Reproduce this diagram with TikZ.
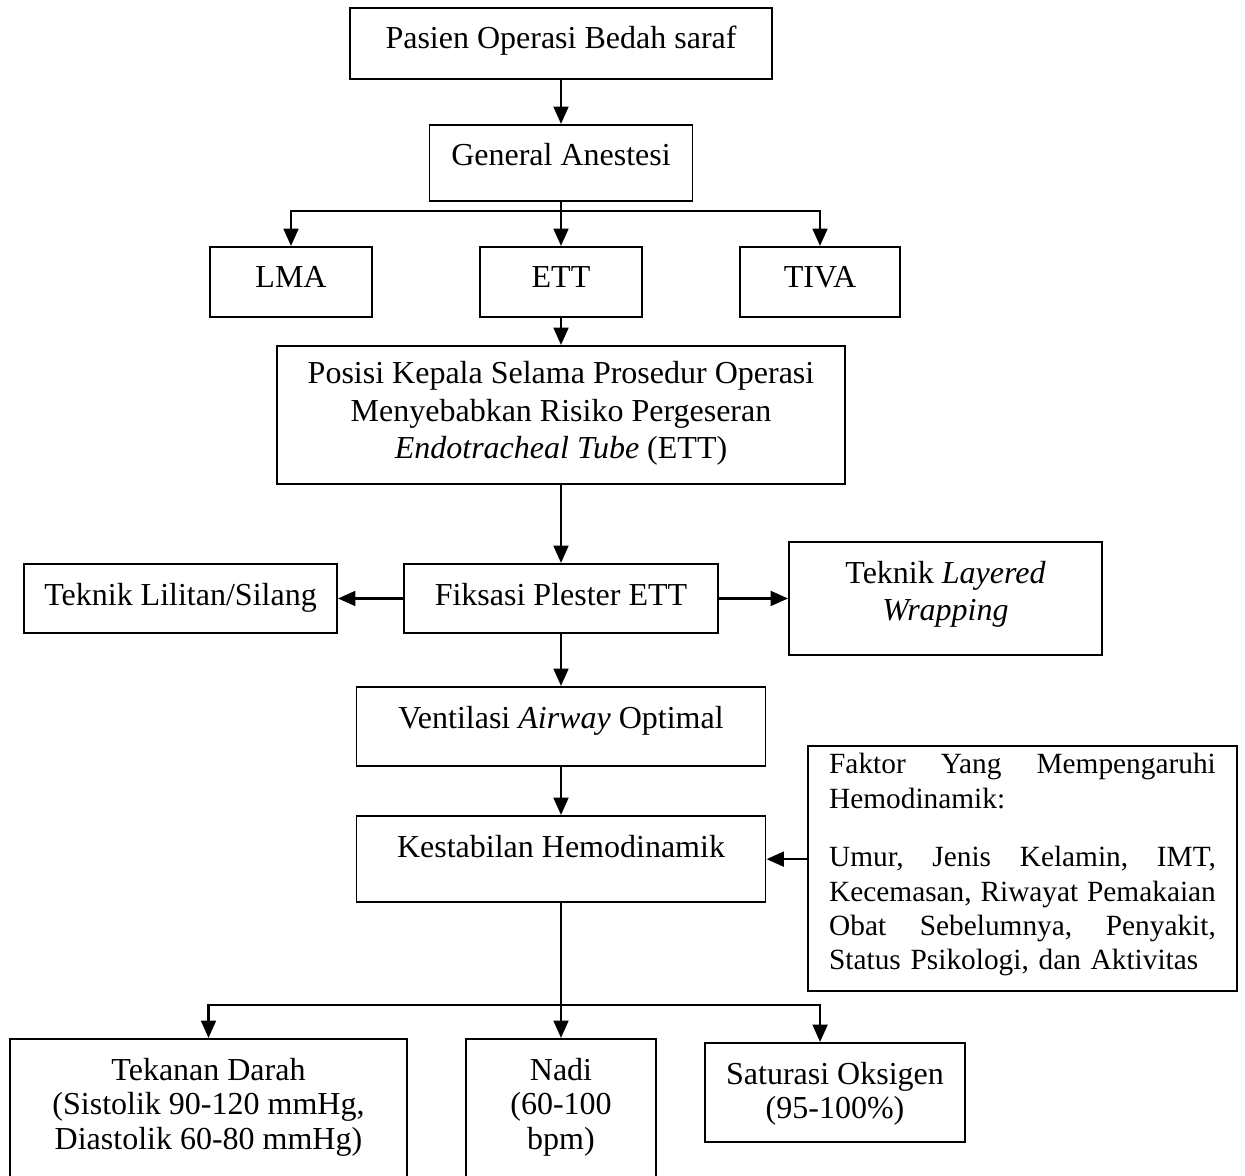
\documentclass[tikz,border=0pt]{standalone}
\usepackage{fontspec}
\setmainfont{Liberation Serif}
\usetikzlibrary{arrows.meta}

\begin{document}
\begin{tikzpicture}
  [x=0.375pt, y=-0.375pt,
  box/.style={draw, line width=0.7pt, inner sep=0pt, anchor=north, align=center, text height=15.4pt, font=\fontsize{12}{13.1}\selectfont},
  link/.style={line width=1pt, -{Triangle[length=6.5pt,width=5.5pt]}}]
  \useasboundingbox (0,0) rectangle (1245,1176);

  \node [box, minimum width=158.25pt, text depth=11.25pt] (pasien) at (561,7) {Pasien Operasi Bedah saraf};
  \node [box, minimum width=98.6pt, text depth=13.1pt] (general) at (561,124) {General Anestesi};

  \node [box, minimum width=60.75pt, text depth=10.9pt] (lma) at (291,246) {LMA};
  \node [box, minimum width=60.75pt, text depth=10.9pt] (ett) at (561,246) {ETT};
  \node [box, minimum width=60pt, text depth=10.9pt] (tiva) at (820,246) {TIVA};

  % multi-line boxes: text height runs down to the last baseline
  \node [box, minimum width=213pt, text height=42.25pt, text depth=9.5pt, font=\fontsize{12}{14}\selectfont] (posisi) at (561,345)
    {Posisi Kepala Selama Prosedur Operasi\\ Menyebabkan Risiko Pergeseran\\ \textit{Endotracheal Tube} (ETT)};

  \node [box, minimum width=117.75pt, text depth=10.5pt] (fiksasi) at (561,563) {Fiksasi Plester ETT};
  \node [box, minimum width=117.4pt, text depth=10.5pt] (lilitan) at (180.5,563) {Teknik Lilitan/Silang};
  \node [box, minimum width=117.4pt, text height=29.4pt, text depth=13pt, font=\fontsize{12}{14}\selectfont] (layered) at (945.5,541)
    {Teknik \textit{Layered}\\ \textit{Wrapping}};

  \node [box, minimum width=153.4pt, text depth=14.25pt] (ventilasi) at (561,686) {Ventilasi \textit{Airway} Optimal};
  \node [box, minimum width=153.4pt, text depth=17pt] (kestabilan) at (561,815) {Kestabilan Hemodinamik};

  \node [box, minimum width=160.9pt, text width=145pt, align=left, text height=10.5pt, text depth=81.5pt, font=\fontsize{11}{12.9}\selectfont] (faktor) at (1022.5,745)
    {\hyphenpenalty=10000 Faktor\hfill Yang\hfill Mempengaruhi\\ Hemodinamik:\\[9pt]
     Umur,\hfill Jenis\hfill Kelamin,\hfill IMT,\\ Kecemasan,\hfill Riwayat\hfill Pemakaian\\
     Obat\hfill Sebelumnya,\hfill Penyakit,\\ Status Psikologi, dan Aktivitas};

  \node [box, minimum width=148.9pt, text height=41.6pt, text depth=17.25pt] (tekanan) at (208.5,1038)
    {Tekanan Darah\\ (Sistolik 90-120 mmHg,\\ Diastolik 60-80 mmHg)};
  \node [box, minimum width=71.25pt, text height=41.6pt, text depth=17.25pt] (nadi) at (561,1038) {Nadi\\ (60-100\\ bpm)};
  \node [box, minimum width=97.5pt, text height=28.5pt, text depth=8.6pt] (saturasi) at (835,1042) {Saturasi Oksigen\\ (95-100\%)};

  \coordinate (split1) at (561,211);
  \coordinate (split2) at (561,1005);

  \draw [link] (pasien) -- (general);
  \draw [link] (general) -- (ett);
  \draw [link] (split1) -| (lma);
  \draw [link] (split1) -| (tiva);
  \draw [link] (ett) -- (posisi);
  \draw [link] (posisi) -- (fiksasi);
  \draw [link] (fiksasi) -- (lilitan);
  \draw [link] (fiksasi) -- (layered);
  \draw [link] (fiksasi) -- (ventilasi);
  \draw [link] (ventilasi) -- (kestabilan);
  \draw [link] (faktor.west |- kestabilan) -- (kestabilan);
  \draw [link] (kestabilan) -- (nadi);
  \draw [link] (split2) -| (tekanan);
  \draw [link] (split2) -| ([xshift=-5.6pt]saturasi.north);
\end{tikzpicture}
\end{document}
